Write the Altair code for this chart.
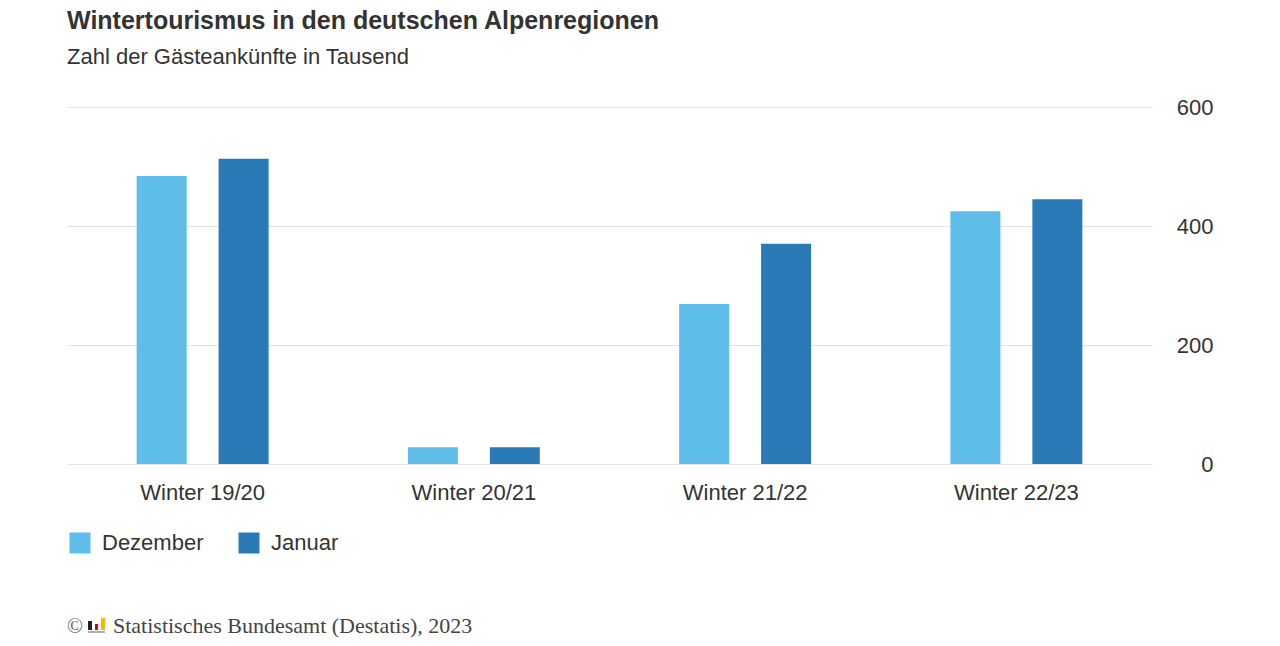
import altair as alt
import pandas as pd

winters = ["Winter 19/20", "Winter 20/21", "Winter 21/22", "Winter 22/23"]
months = ["Dezember", "Januar"]
dezember = [484, 28, 269, 425]
januar = [513, 28, 370, 445]
colors = ["#5ebde9", "#2a7ab8"]

rows = []
for w, d, j in zip(winters, dezember, januar):
    rows.append({"Winter": w, "Monat": "Dezember", "Wert": d})
    rows.append({"Winter": w, "Monat": "Januar", "Wert": j})
df = pd.DataFrame(rows)

FONT = "Liberation Sans"

bars = alt.Chart(df).mark_bar().encode(
    x=alt.X("Winter:N", sort=winters, title=None,
            scale=alt.Scale(paddingInner=0, paddingOuter=0),
            axis=alt.Axis(labelAngle=0, ticks=False, domain=False, labelFontSize=22,
                          labelColor="#333333", labelFont=FONT, labelPadding=18, grid=False)),
    xOffset=alt.XOffset("Monat:N", sort=months,
                        scale=alt.Scale(paddingInner=0.39, paddingOuter=0.85)),
    y=alt.Y("Wert:Q", title=None,
            scale=alt.Scale(domain=[0, 600]),
            axis=alt.Axis(orient="right", values=[0, 200, 400, 600], ticks=False, domain=False,
                          labelAlign="right", labelPadding=61, labelFontSize=22,
                          labelColor="#333333", labelFont=FONT, gridColor="#e3e3e3")),
    color=alt.Color("Monat:N", sort=months,
                    scale=alt.Scale(domain=months, range=colors),
                    legend=alt.Legend(title=None, orient="none", legendX=2, legendY=425,
                                      direction="horizontal", symbolType="square",
                                      symbolSize=441, symbolStrokeWidth=0, labelFontSize=22,
                                      labelFont=FONT, labelColor="#333333", labelOffset=11,
                                      columnPadding=34, symbolOpacity=1)),
)

footer_df = pd.DataFrame({"t": ["Statistisches Bundesamt (Destatis), 2023"]})
footer = alt.Chart(footer_df).mark_text(
    align="left", baseline="alphabetic", font="Liberation Serif", fontSize=22, color="#444444"
).encode(text="t:N", x=alt.value(46), y=alt.value(526))

copy_df = pd.DataFrame({"t": ["©"]})
copyright_mark = alt.Chart(copy_df).mark_text(
    align="left", baseline="alphabetic", font="Liberation Serif", fontSize=21, color="#666666"
).encode(text="t:N", x=alt.value(0), y=alt.value(526))

logo_df = pd.DataFrame({
    "c": ["#222222", "#d0021b", "#f5b800", "#b0b0b0"],
    "x1": [21, 28, 34, 21], "x2": [25, 31, 38, 38],
    "y1": [514, 517, 511, 524], "y2": [523, 523, 523, 526],
})
logo = alt.Chart(logo_df).mark_rect().encode(
    x=alt.X("x1:Q", scale=None), x2="x2:Q",
    y=alt.Y("y1:Q", scale=None), y2="y2:Q",
    color=alt.Color("c:N", scale=None),
)

chart = alt.layer(bars, footer, copyright_mark, logo).properties(
    width=1085, height=357,
    title=alt.TitleParams(
        text="Wintertourismus in den deutschen Alpenregionen",
        subtitle="Zahl der Gästeankünfte in Tausend",
        anchor="start", frame="group", font=FONT, fontSize=25, fontWeight="bold",
        color="#333333", subtitleFont=FONT, subtitleFontSize=22, subtitleColor="#333333",
        subtitlePadding=13, offset=28,
    ),
    autosize=alt.AutoSizeParams(type="none"),
    padding={"left": 59, "top": 99, "right": 110, "bottom": 174},
).configure_view(stroke=None)

chart.save("out.html", embed_options={"renderer": "svg", "actions": False})
